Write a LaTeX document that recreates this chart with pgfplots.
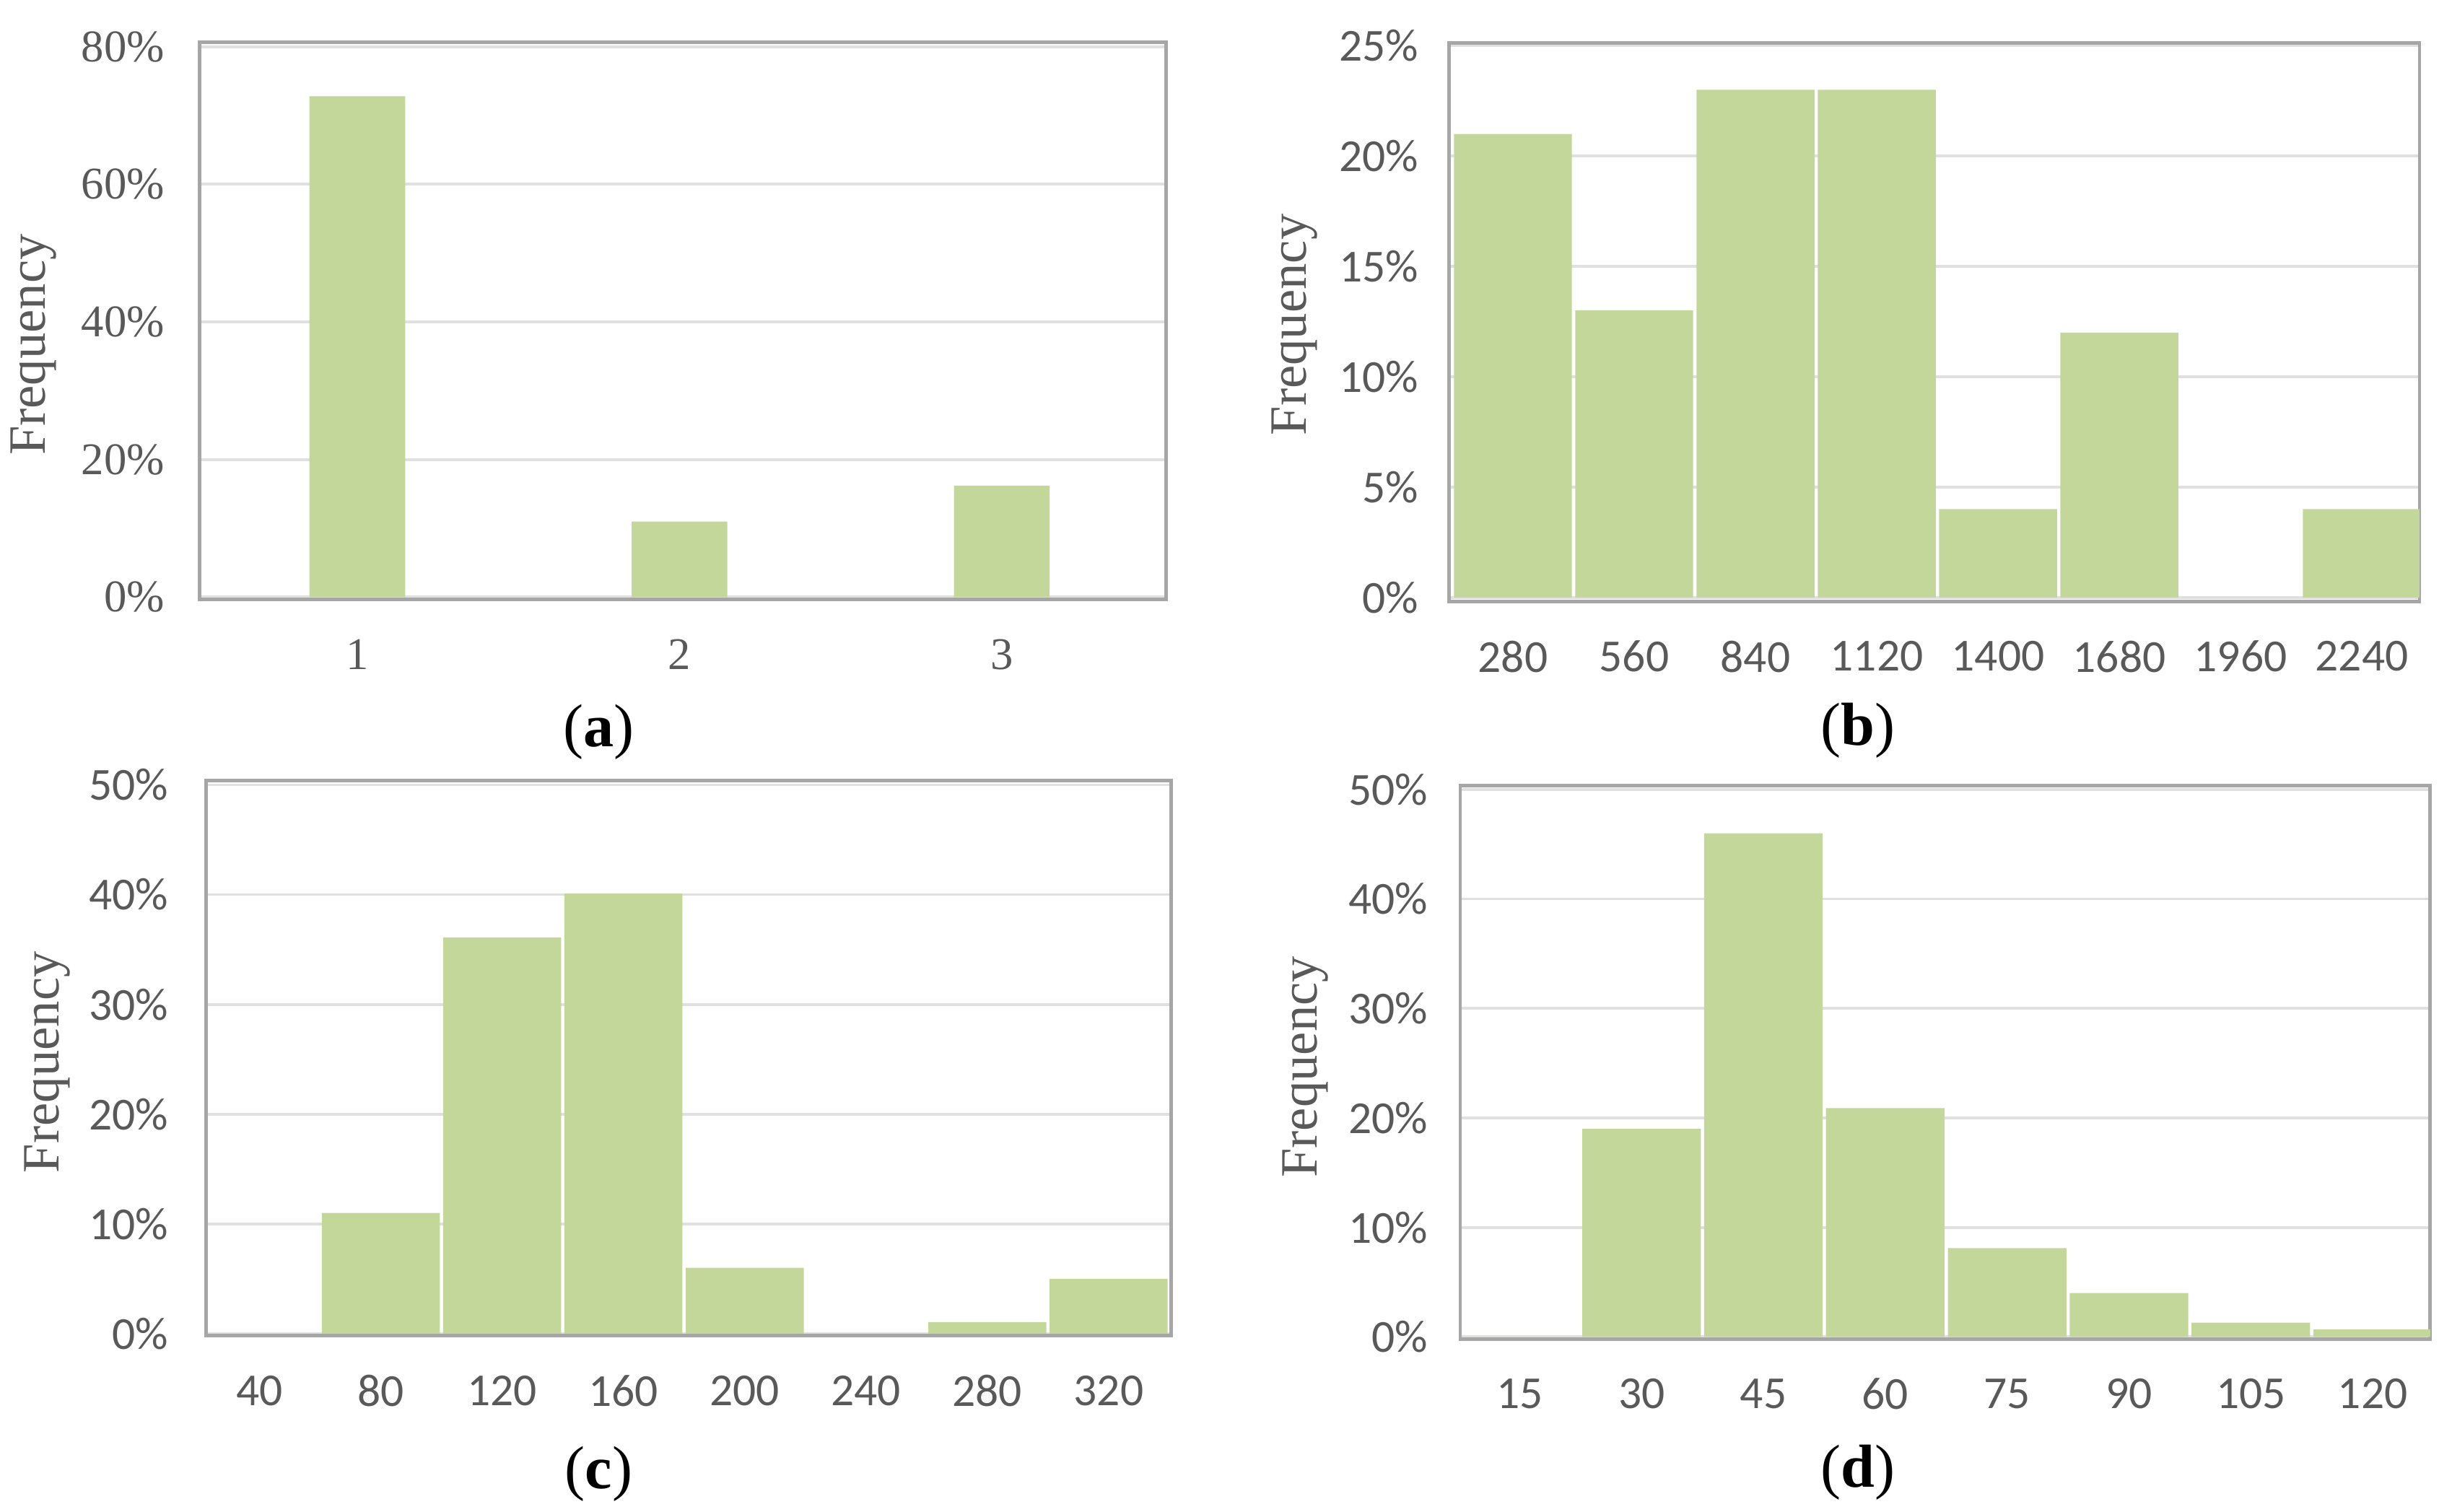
\documentclass[border=0pt]{standalone}
\usepackage{fontspec}
\setmainfont{Liberation Serif}
\newfontfamily\carlito{Carlito}
\usepackage{pgfplots}
\pgfplotsset{compat=1.18}
\definecolor{barg}{HTML}{C4D79B}
\definecolor{axisgray}{HTML}{A6A6A6}
\definecolor{gridgray}{HTML}{E0E0E0}
\definecolor{labgray}{HTML}{595959}
\pgfplotsset{
  hist/.style={
    scale only axis,
    ybar,
    axis line style={draw=axisgray, line width=0.65pt},
    ymajorgrids, grid style={draw=gridgray, line width=0.5pt},
    major tick length=0pt, tick style={draw=none},
    /pgf/number format/assume math mode=true,
    yticklabel={\pgfmathprintnumber{\tick}\%},
    ticklabel style={color=labgray},
    xticklabel style={anchor=center, inner sep=0pt, yshift=-0.35cm},
    yticklabel style={anchor=east, inner sep=0pt},
    ylabel={Frequency},
    ylabel style={anchor=center, rotate=0, color=labgray, font=\fontsize{9.5}{11}\selectfont},
    tick label style={font=\fontsize{8.3}{10}\selectfont\carlito},
  },
}
\begin{document}
\begin{tikzpicture}
\useasboundingbox (0,0) rectangle (15.6,9.62);
% (a)
\begin{axis}[hist, at={(1.2707cm,5.805cm)}, anchor=south west,
  width=6.146cm, height=3.544cm,
  xmin=0.511, xmax=3.509, ymin=-0.35, ymax=80.6, ytick={0,20,...,80},
  xtick={1,2,3}, xticklabels={1,2,3},
  bar width=0.297,
  tick label style={font=\fontsize{8.2}{10}\selectfont\rmfamily},
  yticklabel style={xshift=-0.218cm},
  ylabel style={at={([xshift=-1.058cm,yshift=-0.15cm]axis description cs:0,0.5)}},
]
\addplot[fill=barg, draw=none] coordinates {(1,72.8) (2,11.0) (3,16.2)};
\end{axis}
% (b)
\begin{axis}[hist, at={(9.221cm,5.793cm)}, anchor=south west,
  width=6.172cm, height=3.555cm,
  xmin=-0.524, xmax=7.476, ymin=-0.18, ymax=25.13, ytick={0,5,...,25},
  xtick={0,...,7}, xticklabels={280,560,840,1120,1400,1680,1960,2240},
  bar width=0.973,
  yticklabel style={xshift=-0.19cm},
  ylabel style={at={([xshift=-0.986cm,yshift=-0.017cm]axis description cs:0,0.5)}},
]
\addplot[fill=barg, draw=none] coordinates {(0,21) (1,13) (2,23) (3,23) (4,4) (5,12) (6,0) (7,4)};
\end{axis}
% (c)
\begin{axis}[hist, at={(1.312cm,1.1205cm)}, anchor=south west,
  width=6.140cm, height=3.531cm,
  xmin=-0.44, xmax=7.517, ymin=-0.2, ymax=50.37, ytick={0,10,...,50},
  xtick={0,...,7}, xticklabels={40,80,120,160,200,240,280,320},
  bar width=0.973,
  yticklabel style={xshift=-0.235cm},
  ylabel style={at={([xshift=-1.013cm,yshift=-0.025cm]axis description cs:0,0.5)}},
]
\addplot[fill=barg, draw=none] coordinates {(0,0) (1,11) (2,36.1) (3,40.1) (4,6.0) (5,0) (6,1.05) (7,5.0)};
\end{axis}
% (d)
\begin{axis}[hist, at={(9.290cm,1.1008cm)}, anchor=south west,
  width=6.171cm, height=3.520cm,
  xmin=-0.488, xmax=7.472, ymin=-0.18, ymax=50.35, ytick={0,10,...,50},
  xtick={0,...,7}, xticklabels={15,30,45,60,75,90,105,120},
  bar width=0.973,
  yticklabel style={xshift=-0.2cm},
  ylabel style={at={([xshift=-0.985cm,yshift=-0.03cm]axis description cs:0,0.5)}},
]
\addplot[fill=barg, draw=none] coordinates {(0,0) (1,19.0) (2,46.0) (3,20.9) (4,8.1) (5,4.0) (6,1.3) (7,0.7)};
\end{axis}
\node[font=\fontsize{11}{13}\selectfont] at (3.81,4.96) {(\textbf{a})};
\node[font=\fontsize{11}{13}\selectfont] at (11.82,4.97) {(\textbf{b})};
\node[font=\fontsize{11}{13}\selectfont] at (3.81,0.24) {(\textbf{c})};
\node[font=\fontsize{11}{13}\selectfont] at (11.82,0.25) {(\textbf{d})};
\end{tikzpicture}
\end{document}
